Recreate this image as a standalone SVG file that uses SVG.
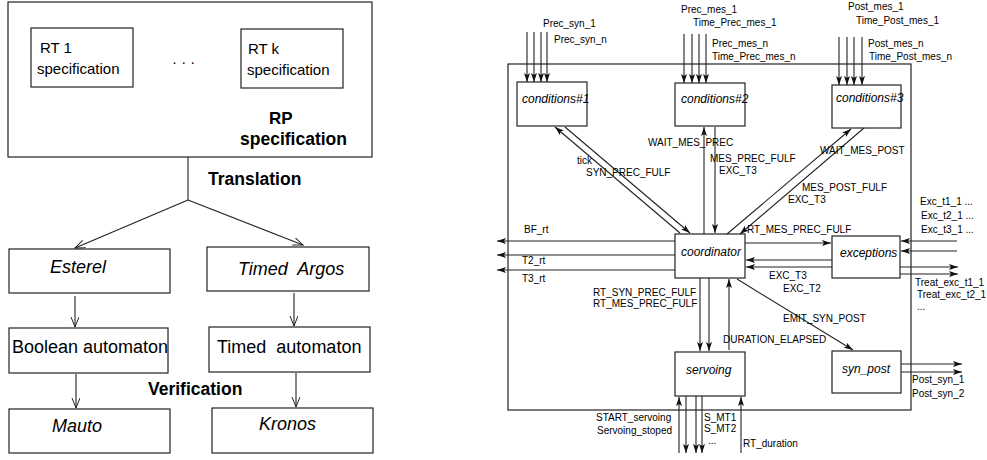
<svg xmlns="http://www.w3.org/2000/svg" width="987" height="460" viewBox="0 0 987 460">
<style>
.box{fill:#fff;stroke:#222;stroke-width:1.2}
.ln{stroke:#222;stroke-width:1.1;fill:none}
.la{marker-end:url(#la)}
.ra{marker-end:url(#ra)}
.t18{font-family:"Liberation Sans",Arial,sans-serif;font-size:18px;fill:#000}
.t15{font-family:"Liberation Sans",Arial,sans-serif;font-size:15px;fill:#000}
.b{font-weight:bold}
.it{font-style:italic}
.t12{font-family:"Liberation Sans",Arial,sans-serif;font-size:12px;font-style:italic;fill:#000}
.t10{font-family:"Liberation Sans",Arial,sans-serif;font-size:10px;fill:#000}
</style>
<defs>
<marker id="la" markerUnits="userSpaceOnUse" markerWidth="12" markerHeight="10" refX="10" refY="4" orient="auto">
<path d="M0,0 L10,4 L0,8" fill="none" stroke="#222" stroke-width="1"/>
</marker>
<marker id="ra" markerUnits="userSpaceOnUse" markerWidth="10" markerHeight="8" refX="9" refY="3" orient="auto">
<path d="M0,0 L9,3 L0,6 L2,3 z" fill="#111"/>
</marker>
</defs>
<rect width="987" height="460" fill="#fff"/>

<!-- LEFT DIAGRAM -->
<g id="rp">
<rect class="box" x="8" y="2" width="364" height="155"/>
<text class="t18 b" x="269" y="124" style="font-size:17px">RP</text>
<text class="t18 b" x="240" y="145" style="font-size:17.5px">specification</text>
<text class="t15" x="172" y="67">· · ·</text>
</g>
<g id="rt1">
<rect class="box" x="31" y="28" width="102" height="59"/>
<text class="t15" x="40" y="53">RT 1</text>
<text class="t15" x="37" y="74">specification</text>
</g>
<g id="rtk">
<rect class="box" x="241" y="29" width="102" height="59"/>
<text class="t15" x="248" y="54">RT k</text>
<text class="t15" x="247" y="75">specification</text>
</g>
<g id="esterel">
<rect class="box" x="9" y="249" width="161" height="44"/>
<text class="t18 it" x="50" y="273">Esterel</text>
</g>
<g id="argos">
<rect class="box" x="207" y="247" width="162" height="44"/>
<text class="t18 it" x="238" y="275" xml:space="preserve">Timed  Argos</text>
</g>
<g id="boolean">
<rect class="box" x="9" y="328" width="159" height="45"/>
<text class="t18" x="12" y="353">Boolean automaton</text>
</g>
<g id="timed">
<rect class="box" x="209" y="327" width="161" height="45"/>
<text class="t18" x="217" y="353" xml:space="preserve">Timed  automaton</text>
</g>
<g id="mauto">
<rect class="box" x="9" y="409" width="161" height="44"/>
<text class="t18 it" x="52" y="432">Mauto</text>
</g>
<g id="kronos">
<rect class="box" x="212" y="408" width="161" height="45"/>
<text class="t18 it" x="259" y="430">Kronos</text>
</g>
<g id="left-connectors">
<line class="ln" x1="188" y1="157" x2="188" y2="200"/>
<line class="ln la" x1="188" y1="200" x2="75" y2="248"/>
<line class="ln la" x1="188" y1="200" x2="303" y2="245"/>
<line class="ln la" x1="75" y1="296" x2="75" y2="327"/>
<line class="ln la" x1="294" y1="293" x2="294" y2="326"/>
<line class="ln la" x1="76" y1="374" x2="76" y2="408"/>
<line class="ln la" x1="296" y1="373" x2="296" y2="407"/>
<text class="t18 b" x="208" y="185" style="font-size:17.5px">Translation</text>
<text class="t18 b" x="148" y="395" style="font-size:17.5px">Verification</text>
</g>

<!-- RIGHT DIAGRAM -->
<g id="system">
<rect class="box" x="508" y="64" width="403" height="346" fill="none"/>
</g>
<g id="conditions1">
<rect class="box" x="517" y="82" width="70" height="44"/>
<text class="t12" x="522" y="103">conditions#1</text>
</g>
<g id="conditions2">
<rect class="box" x="675" y="83" width="70" height="43"/>
<text class="t12" x="681" y="103">conditions#2</text>
</g>
<g id="conditions3">
<rect class="box" x="832" y="85" width="69" height="43"/>
<text class="t12" x="836" y="102">conditions#3</text>
</g>
<g id="coordinator">
<rect class="box" x="675" y="234" width="70" height="44"/>
<text class="t12" x="681" y="256">coordinator</text>
</g>
<g id="exceptions">
<rect class="box" x="832" y="236" width="68" height="42"/>
<text class="t12" x="840" y="257">exceptions</text>
</g>
<g id="servoing">
<rect class="box" x="675" y="352" width="70" height="44"/>
<text class="t12" x="686" y="374">servoing</text>
</g>
<g id="syn_post">
<rect class="box" x="832" y="351" width="69" height="42"/>
<text class="t12" x="842" y="373">syn_post</text>
</g>

<g id="connectors">
<line class="ln ra" x1="527" y1="32" x2="527" y2="82"/>
<line class="ln ra" x1="534" y1="32" x2="534" y2="82"/>
<line class="ln ra" x1="541" y1="32" x2="541" y2="82"/>
<line class="ln ra" x1="547" y1="32" x2="547" y2="82"/>
<line class="ln ra" x1="684" y1="34" x2="684" y2="83"/>
<line class="ln ra" x1="692" y1="34" x2="692" y2="83"/>
<line class="ln ra" x1="699" y1="34" x2="699" y2="83"/>
<line class="ln ra" x1="706" y1="34" x2="706" y2="83"/>
<line class="ln ra" x1="839" y1="37" x2="839" y2="85"/>
<line class="ln ra" x1="847" y1="37" x2="847" y2="85"/>
<line class="ln ra" x1="854" y1="37" x2="854" y2="85"/>
<line class="ln ra" x1="862" y1="37" x2="862" y2="85"/>
<line class="ln ra" x1="680" y1="233" x2="555" y2="127"/>
<line class="ln ra" x1="565" y1="127" x2="690" y2="233"/>
<line class="ln ra" x1="704" y1="234" x2="704" y2="127"/>
<line class="ln ra" x1="715" y1="127" x2="715" y2="233"/>
<line class="ln ra" x1="727" y1="234" x2="851" y2="129"/>
<line class="ln ra" x1="864" y1="128" x2="740" y2="234"/>
<line class="ln ra" x1="675" y1="241" x2="497" y2="241"/>
<line class="ln ra" x1="675" y1="255" x2="497" y2="255"/>
<line class="ln ra" x1="675" y1="270" x2="497" y2="270"/>
<line class="ln ra" x1="745" y1="243" x2="831" y2="243"/>
<line class="ln ra" x1="832" y1="260" x2="746" y2="260"/>
<line class="ln ra" x1="832" y1="267" x2="746" y2="267"/>
<line class="ln ra" x1="957" y1="241" x2="901" y2="241"/>
<line class="ln ra" x1="957" y1="251" x2="901" y2="251"/>
<line class="ln ra" x1="900" y1="267" x2="958" y2="267"/>
<line class="ln ra" x1="900" y1="274" x2="958" y2="274"/>
<line class="ln ra" x1="700" y1="278" x2="700" y2="351"/>
<line class="ln ra" x1="709" y1="278" x2="709" y2="351"/>
<line class="ln ra" x1="729" y1="350" x2="729" y2="279"/>
<line class="ln ra" x1="737" y1="279" x2="853" y2="350"/>
<line class="ln ra" x1="901" y1="364" x2="962" y2="364"/>
<line class="ln ra" x1="901" y1="372" x2="962" y2="372"/>
<line class="ln ra" x1="679" y1="453" x2="679" y2="397"/>
<line class="ln ra" x1="686" y1="396" x2="686" y2="453"/>
<line class="ln ra" x1="696" y1="396" x2="696" y2="453"/>
<line class="ln ra" x1="702" y1="396" x2="702" y2="453"/>
<line class="ln ra" x1="741" y1="453" x2="741" y2="397"/>

<text class="t10" x="543" y="27">Prec_syn_1</text>
<text class="t10" x="554" y="43">Prec_syn_n</text>
<text class="t10" x="681" y="13">Prec_mes_1</text>
<text class="t10" x="693" y="26">Time_Prec_mes_1</text>
<text class="t10" x="712" y="47">Prec_mes_n</text>
<text class="t10" x="712" y="60">Time_Prec_mes_n</text>
<text class="t10" x="848" y="10">Post_mes_1</text>
<text class="t10" x="856" y="24">Time_Post_mes_1</text>
<text class="t10" x="868" y="47">Post_mes_n</text>
<text class="t10" x="869" y="60">Time_Post_mes_n</text>
<text class="t10" x="577" y="164">tick</text>
<text class="t10" x="586" y="176">SYN_PREC_FULF</text>
<text class="t10" x="648" y="146">WAIT_MES_PREC</text>
<text class="t10" x="710" y="162">MES_PREC_FULF</text>
<text class="t10" x="719" y="174">EXC_T3</text>
<text class="t10" x="820" y="154">WAIT_MES_POST</text>
<text class="t10" x="802" y="191">MES_POST_FULF</text>
<text class="t10" x="788" y="203">EXC_T3</text>
<text class="t10" x="747" y="233">RT_MES_PREC_FULF</text>
<text class="t10" x="524" y="233">BF_rt</text>
<text class="t10" x="522" y="264">T2_rt</text>
<text class="t10" x="522" y="282">T3_rt</text>
<text class="t10" x="769" y="279">EXC_T3</text>
<text class="t10" x="783" y="292">EXC_T2</text>
<text class="t10" x="920" y="205">Exc_t1_1  ...</text>
<text class="t10" x="921" y="219">Exc_t2_1  ...</text>
<text class="t10" x="921" y="233">Exc_t3_1  ...</text>
<text class="t10" x="915" y="286">Treat_exc_t1_1</text>
<text class="t10" x="917" y="298">Treat_exc_t2_1</text>
<text class="t10" x="917" y="310">...</text>
<text class="t10" x="593" y="296">RT_SYN_PREC_FULF</text>
<text class="t10" x="593" y="307">RT_MES_PREC_FULF</text>
<text class="t10" x="723" y="343">DURATION_ELAPSED</text>
<text class="t10" x="783" y="322">EMIT_SYN_POST</text>
<text class="t10" x="912" y="383">Post_syn_1</text>
<text class="t10" x="912" y="397">Post_syn_2</text>
<text class="t10" x="596" y="421">START_servoing</text>
<text class="t10" x="597" y="434">Servoing_stoped</text>
<text class="t10" x="704" y="421">S_MT1</text>
<text class="t10" x="704" y="432">S_MT2</text>
<text class="t10" x="708" y="444">...</text>
<text class="t10" x="743" y="447">RT_duration</text>
</g>
</svg>
